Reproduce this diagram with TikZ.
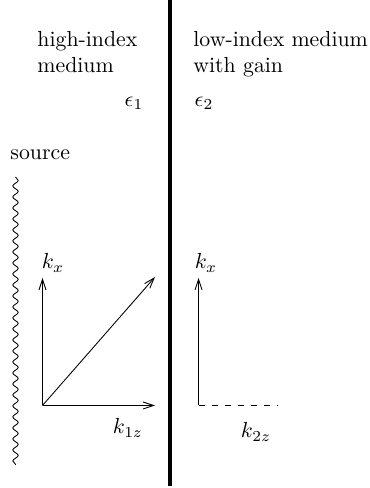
\documentclass[tikz,border=0pt]{standalone}
\usetikzlibrary{decorations.pathmorphing,arrows.meta}
\tikzset{
  wavevec/.style={-{Straight Barb[length=4.8pt,width=3.2pt]}},
  lbl/.style={inner sep=0pt},
}
\begin{document}
\begin{tikzpicture}[x=0.1612cm, y=0.1612cm]
  \useasboundingbox (0,0) rectangle (36.9,48.8);
  % interface between the two media
  \draw[line width=1.6pt] (17.0,48.8) coordinate (top) -- (17.0,0.2) coordinate (bot);
  \node[lbl, anchor=north west, align=left] (med1) at (3.7,45.7) {high-index\\medium};
  \node[lbl, anchor=north west, align=left] (med2) at (19.3,45.7) {low-index medium\\with gain};
  \node (eps1) at (13.4,38.5) {$\epsilon_1$};
  \node (eps2) at (20.4,38.5) {$\epsilon_2$};
  % source
  \node[lbl, anchor=base west] (src) at (1.0,32.8) {source};
  \coordinate (s1) at (1.55,31.1);
  \coordinate (s2) at (1.55,2.3);
  \draw[decorate, decoration={snake, amplitude=0.27*0.1612cm, segment length=1.1*0.1612cm}] (s1) -- (s2);
  % wave vectors in medium 1
  \begin{scope}
    \coordinate (o1) at (4.25,8.25);
    \coordinate (kx1) at (4.25,21.0);
    \coordinate (kz1) at (15.5,8.25);
    \coordinate (k1) at (15.5,21.1);
    \draw[wavevec] (o1) -- (kx1);
    \draw[wavevec] (o1) -- (kz1);
    \draw[wavevec] (o1) -- (k1);
    \node (lkx1) at (5.3,22.5) {$k_x$};
    \node (lkz1) at (12.8,6.0) {$k_{1z}$};
  \end{scope}
  % wave vectors in medium 2
  \begin{scope}
    \coordinate (o2) at (19.85,8.25);
    \coordinate (kx2) at (19.85,21.0);
    \coordinate (kz2) at (27.8,8.25);
    \draw[wavevec] (o2) -- (kx2);
    \draw[dashed] (o2) -- (kz2);
    \node (lkx2) at (20.6,22.5) {$k_x$};
    \node (lkz2) at (25.6,5.6) {$k_{2z}$};
  \end{scope}
\end{tikzpicture}
\end{document}
